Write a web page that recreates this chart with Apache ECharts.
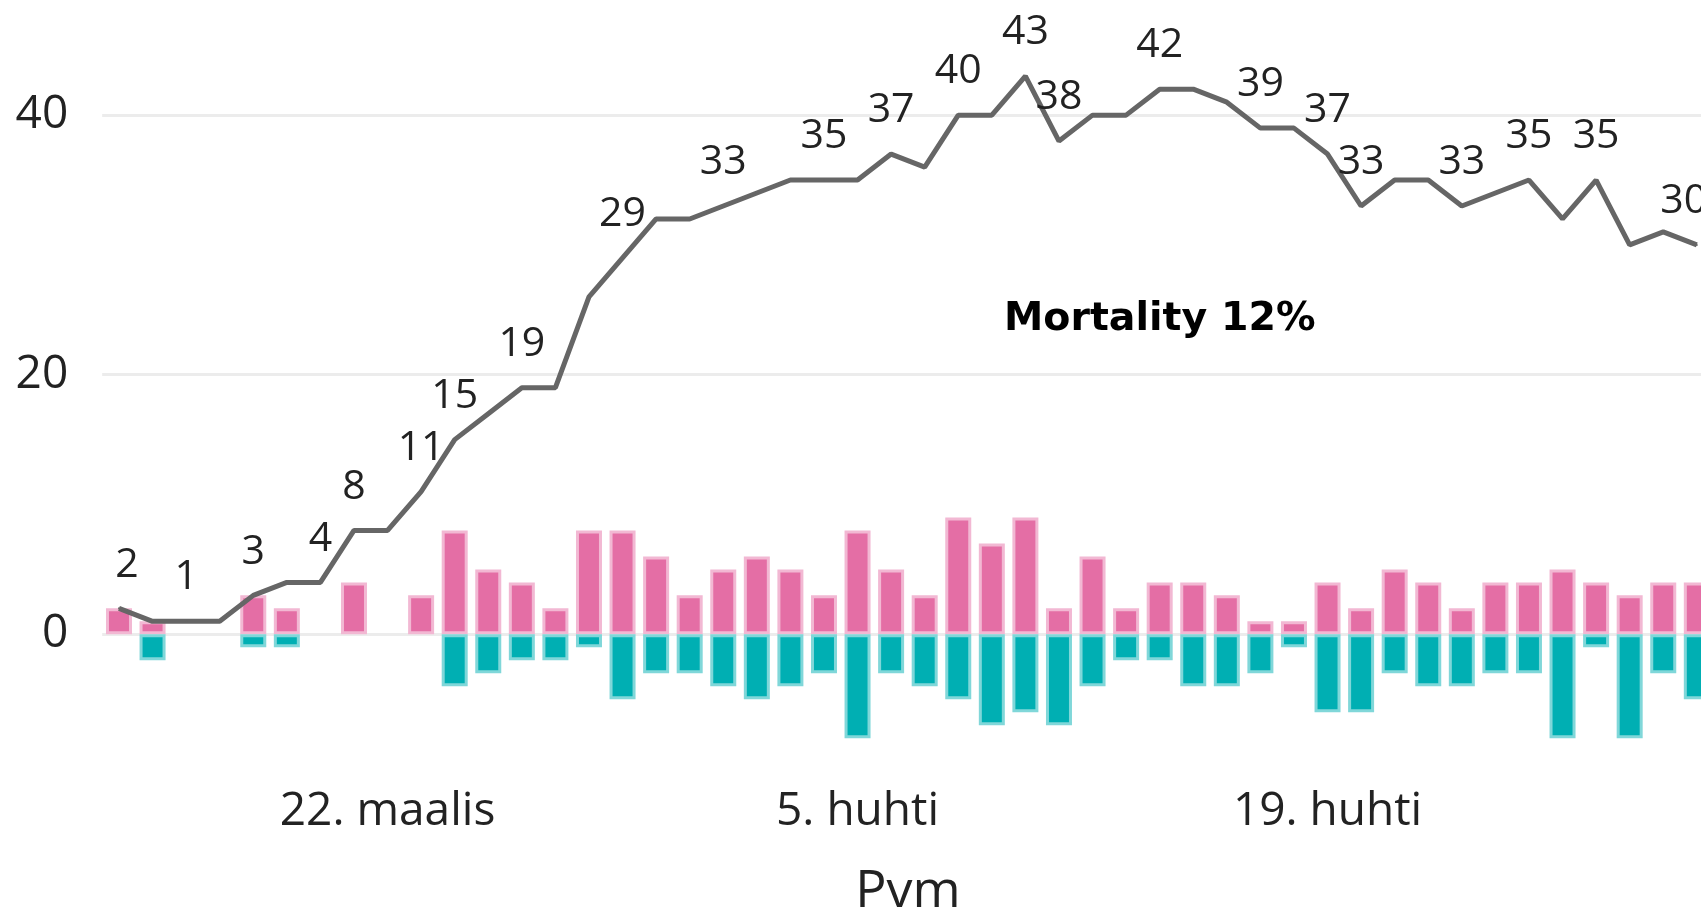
<!DOCTYPE html>
<html>
<head>
<meta charset="utf-8">
<script src="https://cdn.jsdelivr.net/npm/echarts@6/dist/echarts.min.js"></script>
<style>
  html, body { margin: 0; padding: 0; overflow: hidden; background: #fff; }
  /* the reference is cropped a little on the right, so the chart is wider than the window */
  #chart { width: 1760px; height: 913px; }
</style>
</head>
<body>
<div id="chart"></div>
<script>
// päivät
const days = [
  '14. maalis', '15. maalis', '16. maalis', '17. maalis', '18. maalis', '19. maalis',
  '20. maalis', '21. maalis', '22. maalis', '23. maalis', '24. maalis', '25. maalis',
  '26. maalis', '27. maalis', '28. maalis', '29. maalis', '30. maalis', '31. maalis',
  '1. huhti', '2. huhti', '3. huhti', '4. huhti', '5. huhti', '6. huhti',
  '7. huhti', '8. huhti', '9. huhti', '10. huhti', '11. huhti', '12. huhti',
  '13. huhti', '14. huhti', '15. huhti', '16. huhti', '17. huhti', '18. huhti',
  '19. huhti', '20. huhti', '21. huhti', '22. huhti', '23. huhti', '24. huhti',
  '25. huhti', '26. huhti', '27. huhti', '28. huhti', '29. huhti', '30. huhti',
]

// uudet (pinkki) ja poistuneet (turkoosi)
const admitted = [2, 1, 0, 0, 3, 2, 0, 4, 0, 3, 8, 5, 4, 2, 8, 8, 6, 3, 5, 6, 5, 3, 8, 5,
  3, 9, 7, 9, 2, 6, 2, 4, 4, 3, 1, 1, 4, 2, 5, 4, 2, 4, 4, 5, 4, 3, 4, 4]
const discharged = [0, -2, 0, 0, -1, -1, 0, 0, 0, 0, -4, -3, -2, -2, -1, -5, -3, -3, -4, -5, -4, -3, -8, -3,
  -4, -5, -7, -6, -7, -4, -2, -2, -4, -4, -3, -1, -6, -6, -3, -4, -4, -3, -3, -8, -1, -8, -3, -5]

// sairaalassa
const inHospital = [2, 1, 1, 1, 3, 4, 4, 8, 8, 11, 15, 17, 19, 19, 26, 29, 32, 32, 33, 34, 35, 35, 35, 37,
  36, 40, 40, 43, 38, 40, 40, 42, 42, 41, 39, 39, 37, 33, 35, 35, 33, 34, 35, 32, 35, 30, 31, 30]

// pisteet joilla on arvo näkyvissä
const labelledDays = [0, 2, 4, 6, 7, 9, 10, 12, 15, 18, 21, 23, 25, 27, 28, 31, 34, 36, 37, 40, 42, 44, 47]
const yTicks = [0, 20, 40]

const textColor = '#222'
const font = 'Open Sans'
const labelShift = { 0: 8, 47: -13 }

const chart = echarts.init(document.getElementById('chart'))

const lineData = inHospital.map((v, i) => {
  if (!labelledDays.includes(i)) return v
  return { value: v, label: { show: true, offset: [labelShift[i] || 0, 0] } }
})

chart.setOption({
  animation: false,
  grid: {
    left: 102.2,
    right: 46.4,
    top: 11.3,
    bottom: 148.9,
    containLabel: false,
    outerBoundsMode: 'none',
  },
  xAxis: {
    type: 'category',
    data: days,
    axisLine: { show: false },
    axisTick: { show: false },
    axisLabel: {
      interval: (i) => (i - 8) % 14 === 0,
      fontFamily: font,
      fontSize: 46,
      color: textColor,
      margin: 25,
    },
    name: 'Pvm',
    nameLocation: 'middle',
    nameGap: 102,
    nameTextStyle: { fontFamily: font, fontSize: 52, color: textColor },
  },
  yAxis: {
    type: 'value',
    min: -10,
    max: 48,
    axisLine: { show: false },
    axisTick: { show: false, customValues: yTicks },
    axisLabel: {
      customValues: yTicks,
      fontFamily: font,
      fontSize: 46,
      color: textColor,
      margin: 34,
    },
    splitLine: { lineStyle: { color: '#ECECEC', width: 3 } },
  },
  graphic: [
    {
      type: 'text',
      x: 1004,
      y: 320,
      style: {
        text: 'Mortality 12%',
        fontFamily: 'DejaVu Sans',
        fontWeight: 'bold',
        fontSize: 39.5,
        fill: '#000',
        align: 'left',
        verticalAlign: 'middle',
      },
    },
  ],
  series: [
    {
      type: 'bar',
      data: admitted.map((v) => (v === 0 ? '-' : v)),
      barWidth: 26,
      barGap: '-100%',
      itemStyle: { color: '#E46EA5', borderColor: '#F2B8D3', borderWidth: 3 },
    },
    {
      type: 'bar',
      data: discharged.map((v) => (v === 0 ? '-' : v)),
      barWidth: 26,
      itemStyle: { color: '#00AFB3', borderColor: '#80D7D9', borderWidth: 3 },
    },
    {
      type: 'line',
      data: lineData,
      z: 5,
      symbol: 'circle',
      symbolSize: 2,
      itemStyle: { color: '#666' },
      lineStyle: { color: '#666', width: 5 },
      label: {
        show: false,
        position: 'top',
        distance: 22,
        fontFamily: font,
        fontSize: 41,
        lineHeight: 41,
        color: textColor,
      },
    },
  ],
})
</script>
</body>
</html>
